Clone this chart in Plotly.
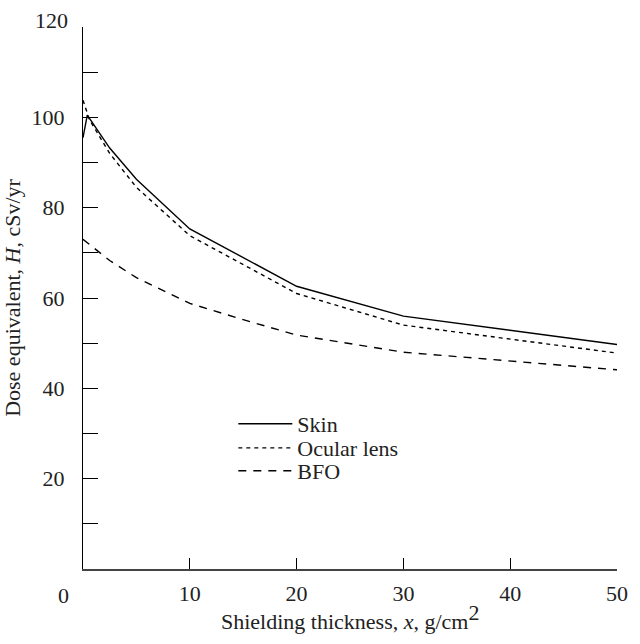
import plotly.graph_objects as go

# Shielding thickness (g/cm^2) and dose equivalent (cSv/yr) for each organ
skin_x = [0, 0.4, 2.5, 5, 10, 20, 30, 50]
skin_h = [95.5, 100.5, 93.2, 86.3, 75.3, 62.6, 56.0, 49.7]

lens_x = [0, 0.6, 2.5, 5, 10, 20, 30, 50]
lens_h = [103.8, 99.5, 92.0, 84.5, 73.8, 61.0, 54.0, 47.8]

bfo_x = [0, 2.5, 5, 10, 15, 20, 30, 50]
bfo_h = [73.0, 68.3, 64.5, 58.8, 55.2, 51.8, 48.0, 44.1]

x_ticks = [0, 10, 20, 30, 40, 50]
y_ticks = [0, 10, 20, 30, 40, 50, 60, 70, 80, 90, 100, 110, 120]
y_labels = [20, 40, 60, 80, 100]

FONT = "Liberation Serif, Times New Roman, serif"
INK = "#222222"
FS = 22

fig = go.Figure()
fig.add_trace(go.Scatter(x=skin_x, y=skin_h, mode="lines", name="Skin",
                         legend="legend",
                         line=dict(color="black", width=1.4)))
fig.add_trace(go.Scatter(x=lens_x, y=lens_h, mode="lines", name="Ocular lens",
                         legend="legend2",
                         line=dict(color="black", width=1.4, dash="4px,4px")))
fig.add_trace(go.Scatter(x=bfo_x, y=bfo_h, mode="lines", name="BFO",
                         legend="legend3",
                         line=dict(color="black", width=1.4, dash="8px,7px")))

legend_style = dict(x=0.2815, xanchor="left", yanchor="middle",
                    bgcolor="rgba(0,0,0,0)", font=dict(size=FS, color=INK),
                    itemwidth=54)

fig.update_layout(
    width=640, height=644,
    margin=dict(l=82, r=18, t=27, b=75),
    paper_bgcolor="white", plot_bgcolor="white",
    font=dict(family=FONT, size=FS, color=INK),
    showlegend=True,
    legend=dict(y=0.2675, **legend_style),
    legend2=dict(y=0.2232, **legend_style),
    legend3=dict(y=0.1808, **legend_style),
    xaxis=dict(
        range=[0, 50], tickmode="array", tickvals=x_ticks,
        ticktext=["" if v == 0 else str(v) for v in x_ticks],
        ticks="inside", ticklen=11, tickcolor="black", tickwidth=1.2,
        showline=True, linecolor="#444444", linewidth=2,
        showgrid=False, zeroline=False, ticklabelstandoff=4,
        tickfont=dict(size=FS, color=INK),
    ),
    yaxis=dict(
        range=[0, 120], tickmode="array", tickvals=y_ticks,
        ticktext=[str(v) if v in y_labels else "" for v in y_ticks],
        ticks="inside", ticklen=15, tickcolor="black", tickwidth=1.2,
        showline=True, linecolor="black", linewidth=1.4,
        showgrid=False, zeroline=False, ticklabelstandoff=13,
        tickfont=dict(size=FS, color=INK),
        title=dict(text="Dose equivalent, <i>H</i>, cSv/yr",
                   standoff=4, font=dict(size=FS, color=INK)),
    ),
    annotations=[
        # x-axis title, with a full-size raised exponent
        dict(x=0.5, y=0, xref="paper", yref="paper",
             text="Shielding thickness, <i>x</i>, g/cm<sup><span style='font-size:22px'>2</span></sup>",
             showarrow=False, xanchor="center", yanchor="middle", yshift=-48,
             font=dict(size=FS, color=INK)),
        dict(x=0, y=120, xref="paper", yref="y", text="120", showarrow=False,
             xanchor="right", yanchor="middle", xshift=-13, yshift=7,
             font=dict(size=FS, color=INK)),
        dict(x=0, y=0, xref="paper", yref="y", text="0", showarrow=False,
             xanchor="center", yanchor="middle", xshift=-20, yshift=-26,
             font=dict(size=FS, color=INK)),
    ],
)

fig.write_html("out.html")
